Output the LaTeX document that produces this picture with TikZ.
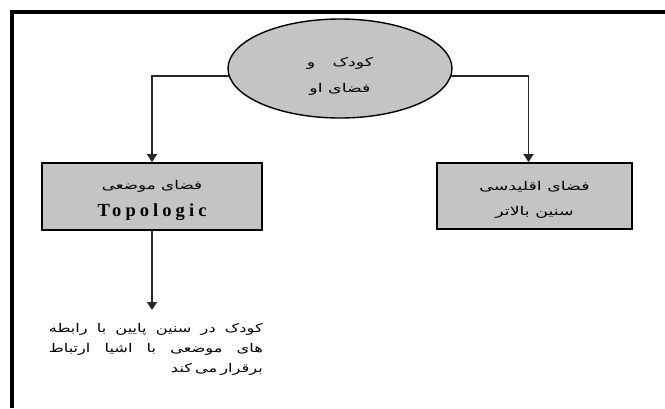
\documentclass[tikz,border=0pt]{standalone}
\usepackage{fontspec}
\usepackage{graphicx}
\setmainfont{Liberation Serif}
\newfontfamily\arabicfont[Script=Arabic]{DejaVu Sans}
\newfontfamily\topofont[LetterSpace=22]{Liberation Serif}
\TeXXeTstate=1
\usetikzlibrary{shapes.geometric,arrows.meta}
\newcommand{\fa}[2][1.4]{\scalebox{#1}[1]{\arabicfont\beginR #2\endR}}
\newcommand{\faline}[2]{\scalebox{1.35}[1]{\hbox to #1{\arabicfont\beginR #2\endR}}}
\definecolor{boxgray}{RGB}{196,196,196}
\definecolor{linegray}{RGB}{40,40,40}
\tikzset{
  shapebox/.style={draw=black, line width=1.8pt, fill=boxgray, align=center, font=\fontsize{12}{14.5}\selectfont},
  conn/.style={draw=linegray, line width=1.6pt, -{Triangle[length=8pt,width=10pt]}},
}
\begin{document}
\begin{tikzpicture}[x=1pt,y=-1pt]
\useasboundingbox (0,0) rectangle (665,408);
\fill[white] (0,0) rectangle (665,408);
\draw[line width=4pt] (12,408) -- (12,12) -- (665,12);
\node[shapebox, ellipse, line width=1.4pt, minimum width=224, minimum height=99, inner sep=0pt] (root) at (340,68.5)
  {\raisebox{-11pt}[0pt][0pt]{\begin{tabular}{@{}c@{}}\fa[1.45]{کودک\quad و}\\[11pt]\fa[1.45]{فضای او}\end{tabular}}};
\node[shapebox, rectangle, minimum width=220, minimum height=67] (topo) at (152,196.5)
  {\raisebox{-7pt}[0pt][0pt]{\begin{tabular}{@{}c@{}}\fa{فضای موضعی}\\[10pt]{\topofont\bfseries\fontsize{18.5}{20}\selectfont Topologic}\end{tabular}}};
\node[shapebox, rectangle, minimum width=195, minimum height=66] (eucl) at (534.5,196)
  {\raisebox{-7pt}[0pt][0pt]{\begin{tabular}{@{}c@{}}\fa[1.45]{فضای اقلیدسی}\\[11pt]\fa[1.45]{سنین بالاتر}\end{tabular}}};
\coordinate (tip) at (152,310);
\node[anchor=north east, align=right, inner sep=0pt, font=\fontsize{12}{20}\selectfont] (note) at (263,323)
  {\faline{158.5pt}{کودک\hfill در\hfill سنین\hfill پایین\hfill با\hfill رابطه}\\
   \faline{158.5pt}{های\hfill موضعی\hfill با\hfill اشیا\hfill ارتباط}\\
   \faline{68pt}{برقرار\hfill می\hfill کند}};
\draw[conn] (root.184) -| (topo.north);
\draw[conn] (root.-4) -| ([xshift=-6pt]eucl.north);
\draw[conn] (topo.south) -- (tip);
\end{tikzpicture}
\end{document}
